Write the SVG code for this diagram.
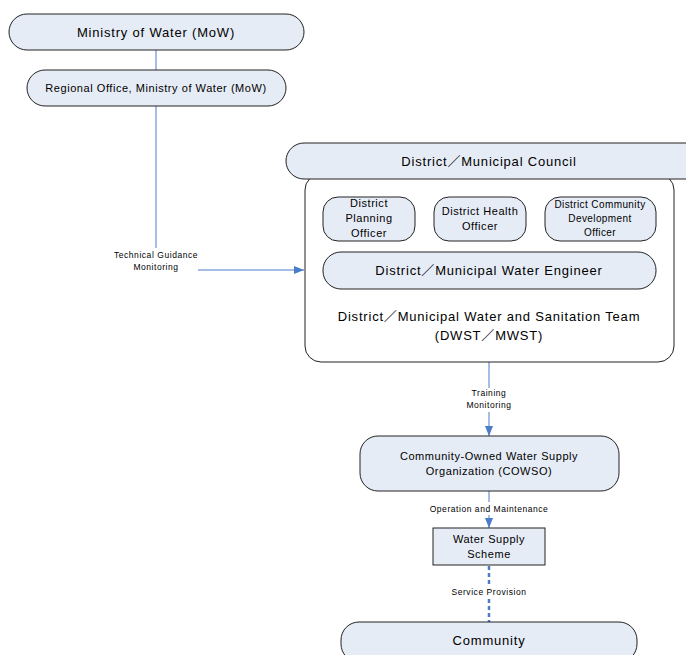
<svg xmlns="http://www.w3.org/2000/svg" width="686" height="655" viewBox="0 0 686 655">
<defs>
<marker id="ah" markerWidth="10" markerHeight="8" refX="10" refY="4" orient="auto" markerUnits="userSpaceOnUse">
<path d="M0,0 L10,4 L0,8 Z" fill="#4a7cc8"/>
</marker>
<style>
.n{fill:#e6ecf6;stroke:#222;stroke-width:1}
.w{fill:#fff;stroke:#222;stroke-width:1}
text{font-family:"Liberation Sans","Noto Sans CJK JP",sans-serif;fill:#000;text-anchor:middle}
.t13{font-size:13px;letter-spacing:0.8px}
.t11{font-size:11px;letter-spacing:0.55px}
.t10{font-size:10px;letter-spacing:0.4px}
.lb{font-size:8.5px;letter-spacing:0.55px}
.c{stroke:#4a7cc8;stroke-width:1;fill:none}
.d{stroke:#4a7cc8;stroke-width:2.5;fill:none;stroke-dasharray:4,3}
</style>
</defs>
<rect width="686" height="655" fill="#fff"/>
<g id="connectors">
<line class="c" x1="156" y1="50" x2="156" y2="70"/>
<line class="c" x1="156" y1="106" x2="156" y2="248"/>
<line class="c" x1="198" y1="270" x2="304" y2="270" marker-end="url(#ah)"/>
<line class="c" x1="489" y1="362" x2="489" y2="388"/>
<line class="c" x1="489" y1="412" x2="489" y2="436" marker-end="url(#ah)"/>
<line class="c" x1="489" y1="491" x2="489" y2="502"/>
<line class="c" x1="489" y1="515" x2="489" y2="528" marker-end="url(#ah)"/>
<line class="d" x1="489" y1="566" x2="489" y2="584"/>
<line class="d" x1="489" y1="599" x2="489" y2="622"/>
<text class="lb" x="156" y="258">Technical Guidance</text>
<text class="lb" x="156" y="270">Monitoring</text>
<text class="lb" x="489" y="396">Training</text>
<text class="lb" x="489" y="408">Monitoring</text>
<text class="lb" x="489" y="512">Operation and Maintenance</text>
<text class="lb" x="489" y="595">Service Provision</text>
</g>
<g id="mow">
<rect class="n" x="9" y="14" width="295" height="36" rx="18"/>
<text class="t13" x="156" y="37">Ministry of Water (MoW)</text>
</g>
<g id="regional">
<rect class="n" x="27" y="70" width="259" height="36" rx="18"/>
<text class="t11" x="156" y="92">Regional Office, Ministry of Water (MoW)</text>
</g>
<g id="team">
<rect class="w" x="305" y="174" width="369" height="188" rx="16"/>
<text class="t13" x="489" y="321">District／Municipal Water and Sanitation Team</text>
<text class="t13" x="489" y="340">(DWST／MWST)</text>
</g>
<g id="council">
<rect class="n" x="286" y="143" width="420" height="36" rx="18"/>
<text class="t13" x="489" y="166">District／Municipal Council</text>
</g>
<g id="planning">
<rect class="n" x="323" y="197" width="92" height="44" rx="15"/>
<text class="t11" x="369" y="207">District</text>
<text class="t11" x="369" y="222">Planning</text>
<text class="t11" x="369" y="237">Officer</text>
</g>
<g id="health">
<rect class="n" x="434" y="197" width="92" height="44" rx="15"/>
<text class="t11" x="480" y="215">District Health</text>
<text class="t11" x="480" y="230">Officer</text>
</g>
<g id="cdo">
<rect class="n" x="545" y="197" width="111" height="44" rx="15"/>
<text class="t10" x="600" y="208">District Community</text>
<text class="t10" x="600" y="222">Development</text>
<text class="t10" x="600" y="236">Officer</text>
</g>
<g id="engineer">
<rect class="n" x="323" y="252" width="333" height="37" rx="18"/>
<text class="t13" x="489" y="275">District／Municipal Water Engineer</text>
</g>
<g id="cowso">
<rect class="n" x="360" y="436" width="259" height="55" rx="18"/>
<text class="t11" x="489" y="460">Community-Owned Water Supply</text>
<text class="t11" x="489" y="475">Organization (COWSO)</text>
</g>
<g id="scheme">
<rect class="n" x="433" y="528" width="112" height="37"/>
<text class="t11" x="489" y="543">Water Supply</text>
<text class="t11" x="489" y="558">Scheme</text>
</g>
<g id="community">
<rect class="n" x="341" y="622" width="296" height="40" rx="18"/>
<text class="t13" x="489" y="645">Community</text>
</g>
</svg>
